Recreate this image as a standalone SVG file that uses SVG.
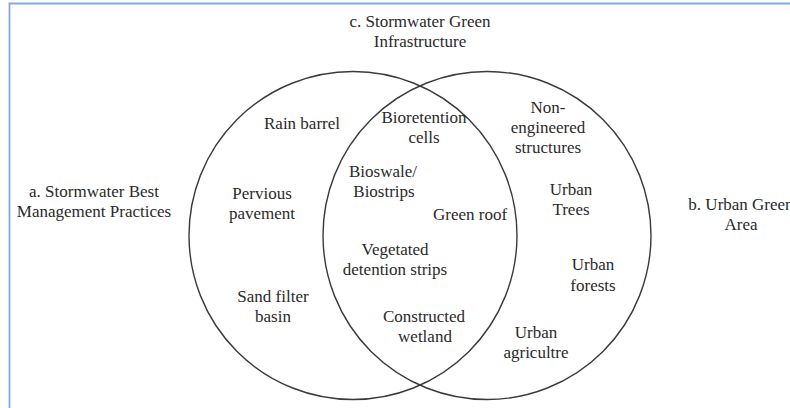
<svg xmlns="http://www.w3.org/2000/svg" width="790" height="408" viewBox="0 0 790 408">
<style>
.t{font-family:"Liberation Serif","Times New Roman",serif;font-size:17px;fill:#2a2a2a;text-anchor:middle}
.c{fill:none;stroke:#3a3a3a;stroke-width:1.4}
.frame{fill:none;stroke:#86a6e2;stroke-width:1.8}
</style>
<rect width="790" height="408" fill="#ffffff"/>
<path class="frame" d="M790 3.5 H9.5 V408"/>
<g id="connectors"></g>
<g id="circle-a"><circle class="c" cx="353" cy="235.5" r="164"/></g>
<g id="circle-b"><circle class="c" cx="487" cy="235.5" r="164"/></g>
<g id="label-c"><text class="t" x="420" y="27">c. Stormwater Green</text><text class="t" x="420" y="47">Infrastructure</text></g>
<g id="label-a"><text class="t" x="94" y="197">a. Stormwater Best</text><text class="t" x="94" y="217">Management Practices</text></g>
<g id="label-b"><text class="t" x="741" y="210">b. Urban Green</text><text class="t" x="741" y="230">Area</text></g>
<g id="rain-barrel"><text class="t" x="302" y="129">Rain barrel</text></g>
<g id="pervious"><text class="t" x="262" y="199">Pervious</text><text class="t" x="262" y="219">pavement</text></g>
<g id="sand-filter"><text class="t" x="273" y="302">Sand filter</text><text class="t" x="273" y="322">basin</text></g>
<g id="bioretention"><text class="t" x="424" y="123">Bioretention</text><text class="t" x="424" y="143">cells</text></g>
<g id="bioswale"><text class="t" x="383" y="177">Bioswale/</text><text class="t" x="384" y="197">Biostrips</text></g>
<g id="green-roof"><text class="t" x="470" y="220">Green roof</text></g>
<g id="vegetated"><text class="t" x="395" y="255">Vegetated</text><text class="t" x="395" y="275">detention strips</text></g>
<g id="wetland"><text class="t" x="424" y="322">Constructed</text><text class="t" x="425" y="342">wetland</text></g>
<g id="non-engineered"><text class="t" x="548" y="113">Non-</text><text class="t" x="548" y="133">engineered</text><text class="t" x="548" y="153">structures</text></g>
<g id="urban-trees"><text class="t" x="571" y="195">Urban</text><text class="t" x="571" y="215">Trees</text></g>
<g id="urban-forests"><text class="t" x="593" y="270">Urban</text><text class="t" x="593" y="291">forests</text></g>
<g id="urban-agriculture"><text class="t" x="536" y="338">Urban</text><text class="t" x="536" y="358">agricultre</text></g>
</svg>
